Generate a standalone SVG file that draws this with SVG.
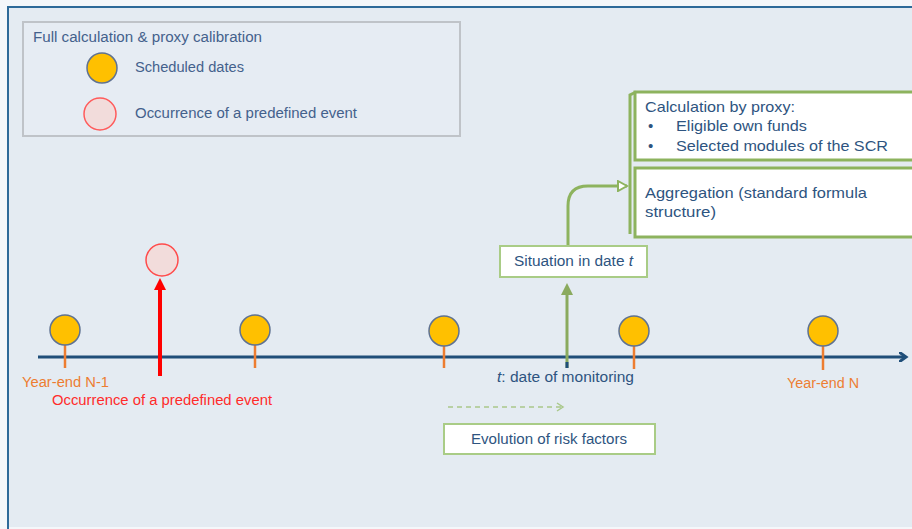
<svg xmlns="http://www.w3.org/2000/svg" width="912" height="529" viewBox="0 0 912 529">
<style>
.t{font-family:"Liberation Sans",Arial,sans-serif;}
.leg{font-size:14px;fill:#44618C;}
.blue{font-size:15px;fill:#2E5480;}
.box{fill:#FFFFFF;stroke:#8DB35E;stroke-width:3;}
.boxl{fill:#FFFFFF;stroke:#A9CC86;stroke-width:2;}
.sched{fill:#FFC000;stroke:#5F7291;stroke-width:1.5;}
.tick{stroke:#ED7D31;stroke-width:2.5;}
</style>
<defs>
<marker id="axisHead" markerWidth="10" markerHeight="10" refX="6" refY="5" orient="auto" markerUnits="userSpaceOnUse">
<path d="M0,0 L7,5 L0,10" fill="none" stroke="#1F4E79" stroke-width="3"/>
</marker>
<marker id="redHead" markerWidth="12" markerHeight="12" refX="6" refY="6" orient="auto" markerUnits="userSpaceOnUse">
<path d="M0,0 L12,6 L0,12 Z" fill="#FF0000"/>
</marker>
<marker id="greenHead" markerWidth="12" markerHeight="12" refX="6" refY="6" orient="auto" markerUnits="userSpaceOnUse">
<path d="M0,0 L12,6 L0,12 Z" fill="#8AAA5E"/>
</marker>
<marker id="openHead" markerWidth="12" markerHeight="12" refX="10" refY="6" orient="auto" markerUnits="userSpaceOnUse">
<path d="M1,1 L10,6 L1,11 Z" fill="#FFFFFF" stroke="#8DB35E" stroke-width="2"/>
</marker>
<marker id="dashHead" markerWidth="10" markerHeight="10" refX="7" refY="5" orient="auto" markerUnits="userSpaceOnUse">
<path d="M1,1 L7,5 L1,9" fill="none" stroke="#A9C88A" stroke-width="1.5"/>
</marker>
</defs>
<rect x="0" y="0" width="912" height="529" fill="#F4F7FA"/>
<rect x="8" y="7" width="904" height="520" fill="#E4EBF2"/>
<line x1="8" y1="7" x2="912" y2="7" stroke="#2E6A99" stroke-width="2"/>
<line x1="8" y1="6" x2="8" y2="529" stroke="#2E6A99" stroke-width="2"/>

<g id="legend">
<rect x="23" y="22" width="437" height="114" fill="#E6ECF3" stroke="#BFC3C8" stroke-width="2"/>
<text class="t leg" x="33" y="42" textLength="229" lengthAdjust="spacingAndGlyphs">Full calculation &amp; proxy calibration</text>
<circle class="sched" cx="102" cy="68" r="15"/>
<text class="t leg" x="135" y="72" textLength="109" lengthAdjust="spacingAndGlyphs">Scheduled dates</text>
<circle cx="100" cy="114" r="16" fill="#F2DCDB" stroke="#FF5B5B" stroke-width="1.5"/>
<text class="t leg" x="135" y="118" textLength="222" lengthAdjust="spacingAndGlyphs">Occurrence of a predefined event</text>
</g>

<g id="connectors">
<line x1="38" y1="357" x2="905" y2="357" stroke="#1F4E79" stroke-width="3" marker-end="url(#axisHead)"/>
<line x1="160" y1="376" x2="160" y2="284" stroke="#FF0000" stroke-width="4" marker-end="url(#redHead)"/>
<line x1="567" y1="368" x2="567" y2="289" stroke="#8AAA5E" stroke-width="3" marker-end="url(#greenHead)"/>
<line x1="567" y1="362" x2="567" y2="368" stroke="#1F4E79" stroke-width="3"/>
<path d="M568,246 L568,206 Q568,186 588,186 L627,186" fill="none" stroke="#8DB35E" stroke-width="3" marker-end="url(#openHead)"/>
<path d="M630,234 L630,95 L636,92" fill="none" stroke="#8DB35E" stroke-width="3"/>
<line x1="448" y1="407" x2="563" y2="407" stroke="#A9C88A" stroke-width="1.5" stroke-dasharray="5,4" marker-end="url(#dashHead)"/>
</g>

<g id="date1"><line class="tick" x1="65" y1="345" x2="65" y2="368"/><circle class="sched" cx="65" cy="330" r="15"/></g>
<g id="date2"><line class="tick" x1="255" y1="345" x2="255" y2="368"/><circle class="sched" cx="255" cy="330" r="15"/></g>
<g id="date3"><line class="tick" x1="444" y1="346" x2="444" y2="368"/><circle class="sched" cx="444" cy="331" r="15"/></g>
<g id="date4"><line class="tick" x1="634" y1="346" x2="634" y2="369"/><circle class="sched" cx="634" cy="331" r="15"/></g>
<g id="date5"><line class="tick" x1="823" y1="346" x2="823" y2="370"/><circle class="sched" cx="823" cy="331" r="15"/></g>

<g id="event">
<circle cx="162" cy="260" r="16" fill="#F2DCDB" stroke="#FF4B4B" stroke-width="1.5"/>
</g>

<g id="labels">
<text class="t" x="22" y="387" font-size="14" fill="#ED7D31" textLength="87" lengthAdjust="spacingAndGlyphs">Year-end N-1</text>
<text class="t" x="52" y="405" font-size="14" fill="#FF2B2B" textLength="220" lengthAdjust="spacingAndGlyphs">Occurrence of a predefined event</text>
<text class="t" x="497" y="382" font-size="14" fill="#2E5480" textLength="137" lengthAdjust="spacingAndGlyphs"><tspan font-style="italic">t</tspan>: date of monitoring</text>
<text class="t" x="787" y="388" font-size="14" fill="#ED7D31" textLength="72" lengthAdjust="spacingAndGlyphs">Year-end N</text>
</g>

<g id="situation">
<rect class="boxl" x="500" y="246" width="147" height="31"/>
<text class="t" x="514" y="266" font-size="14" fill="#2E5480" textLength="119" lengthAdjust="spacingAndGlyphs">Situation in date <tspan font-style="italic">t</tspan></text>
</g>

<g id="evolution">
<rect class="boxl" x="444" y="424" width="211" height="30"/>
<text class="t" x="471" y="444" font-size="14" fill="#2E5480" textLength="156" lengthAdjust="spacingAndGlyphs">Evolution of risk factors</text>
</g>

<g id="proxy">
<rect class="box" x="635" y="92" width="290" height="68"/>
<text class="t blue" x="645" y="112" textLength="150" lengthAdjust="spacingAndGlyphs">Calculation by proxy:</text>
<text class="t blue" x="648" y="131">•</text>
<text class="t blue" x="676" y="131" textLength="131" lengthAdjust="spacingAndGlyphs">Eligible own funds</text>
<text class="t blue" x="648" y="151">•</text>
<text class="t blue" x="676" y="151" textLength="212" lengthAdjust="spacingAndGlyphs">Selected modules of the SCR</text>
</g>

<g id="aggregation">
<rect class="box" x="635" y="168" width="290" height="69"/>
<text class="t blue" x="645" y="198" textLength="222" lengthAdjust="spacingAndGlyphs">Aggregation (standard formula</text>
<text class="t blue" x="645" y="217" textLength="71" lengthAdjust="spacingAndGlyphs">structure)</text>
</g>
</svg>
